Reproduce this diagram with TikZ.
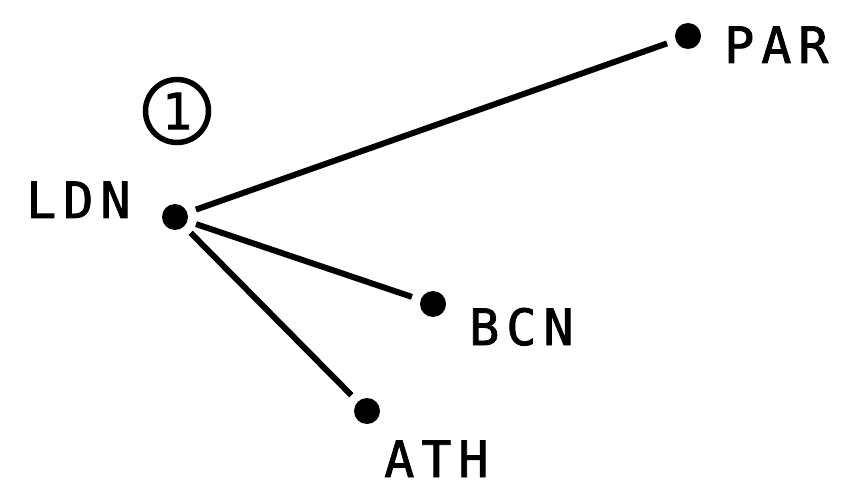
\documentclass[tikz,border=0pt]{standalone}
\usepackage{fontspec}
\newfontfamily\labfont[LetterSpace=14,FakeBold=1.6]{DejaVu Sans Mono}
\newfontfamily\numfont[FakeBold=1.6]{DejaVu Sans Mono}
\begin{document}
\begin{tikzpicture}[x=1pt,y=-1pt,
  dot/.style={circle,fill=black,inner sep=0,minimum size=26pt},
  link/.style={line width=6pt,shorten <=9pt,shorten >=9pt},
  lab/.style={anchor=base west,inner sep=0,font=\labfont\fontsize{50}{50}\selectfont}]
\useasboundingbox (0,0) rectangle (857,497);
\node[dot] (ldn) at (175,217) {};
\node[dot] (par) at (688,36) {};
\node[dot] (bcn) at (433,304) {};
\node[dot] (ath) at (367,411) {};
\draw[link] (ldn) -- (par);
\draw[link] (ldn) -- (bcn);
\draw[link] (ldn) -- (ath);
\node[lab] (tpar) at (724,63) {PAR};
\node[lab] (tldn) at (26,218) {LDN};
\node[lab] (tbcn) at (469,345) {BCN};
\node[lab] (tath) at (384,477) {ATH};
\node[circle,draw,line width=5.5pt,minimum size=63pt,inner sep=0,font=\numfont\fontsize{50}{50}\selectfont] (one) at (177,111) {1};
\end{tikzpicture}
\end{document}
